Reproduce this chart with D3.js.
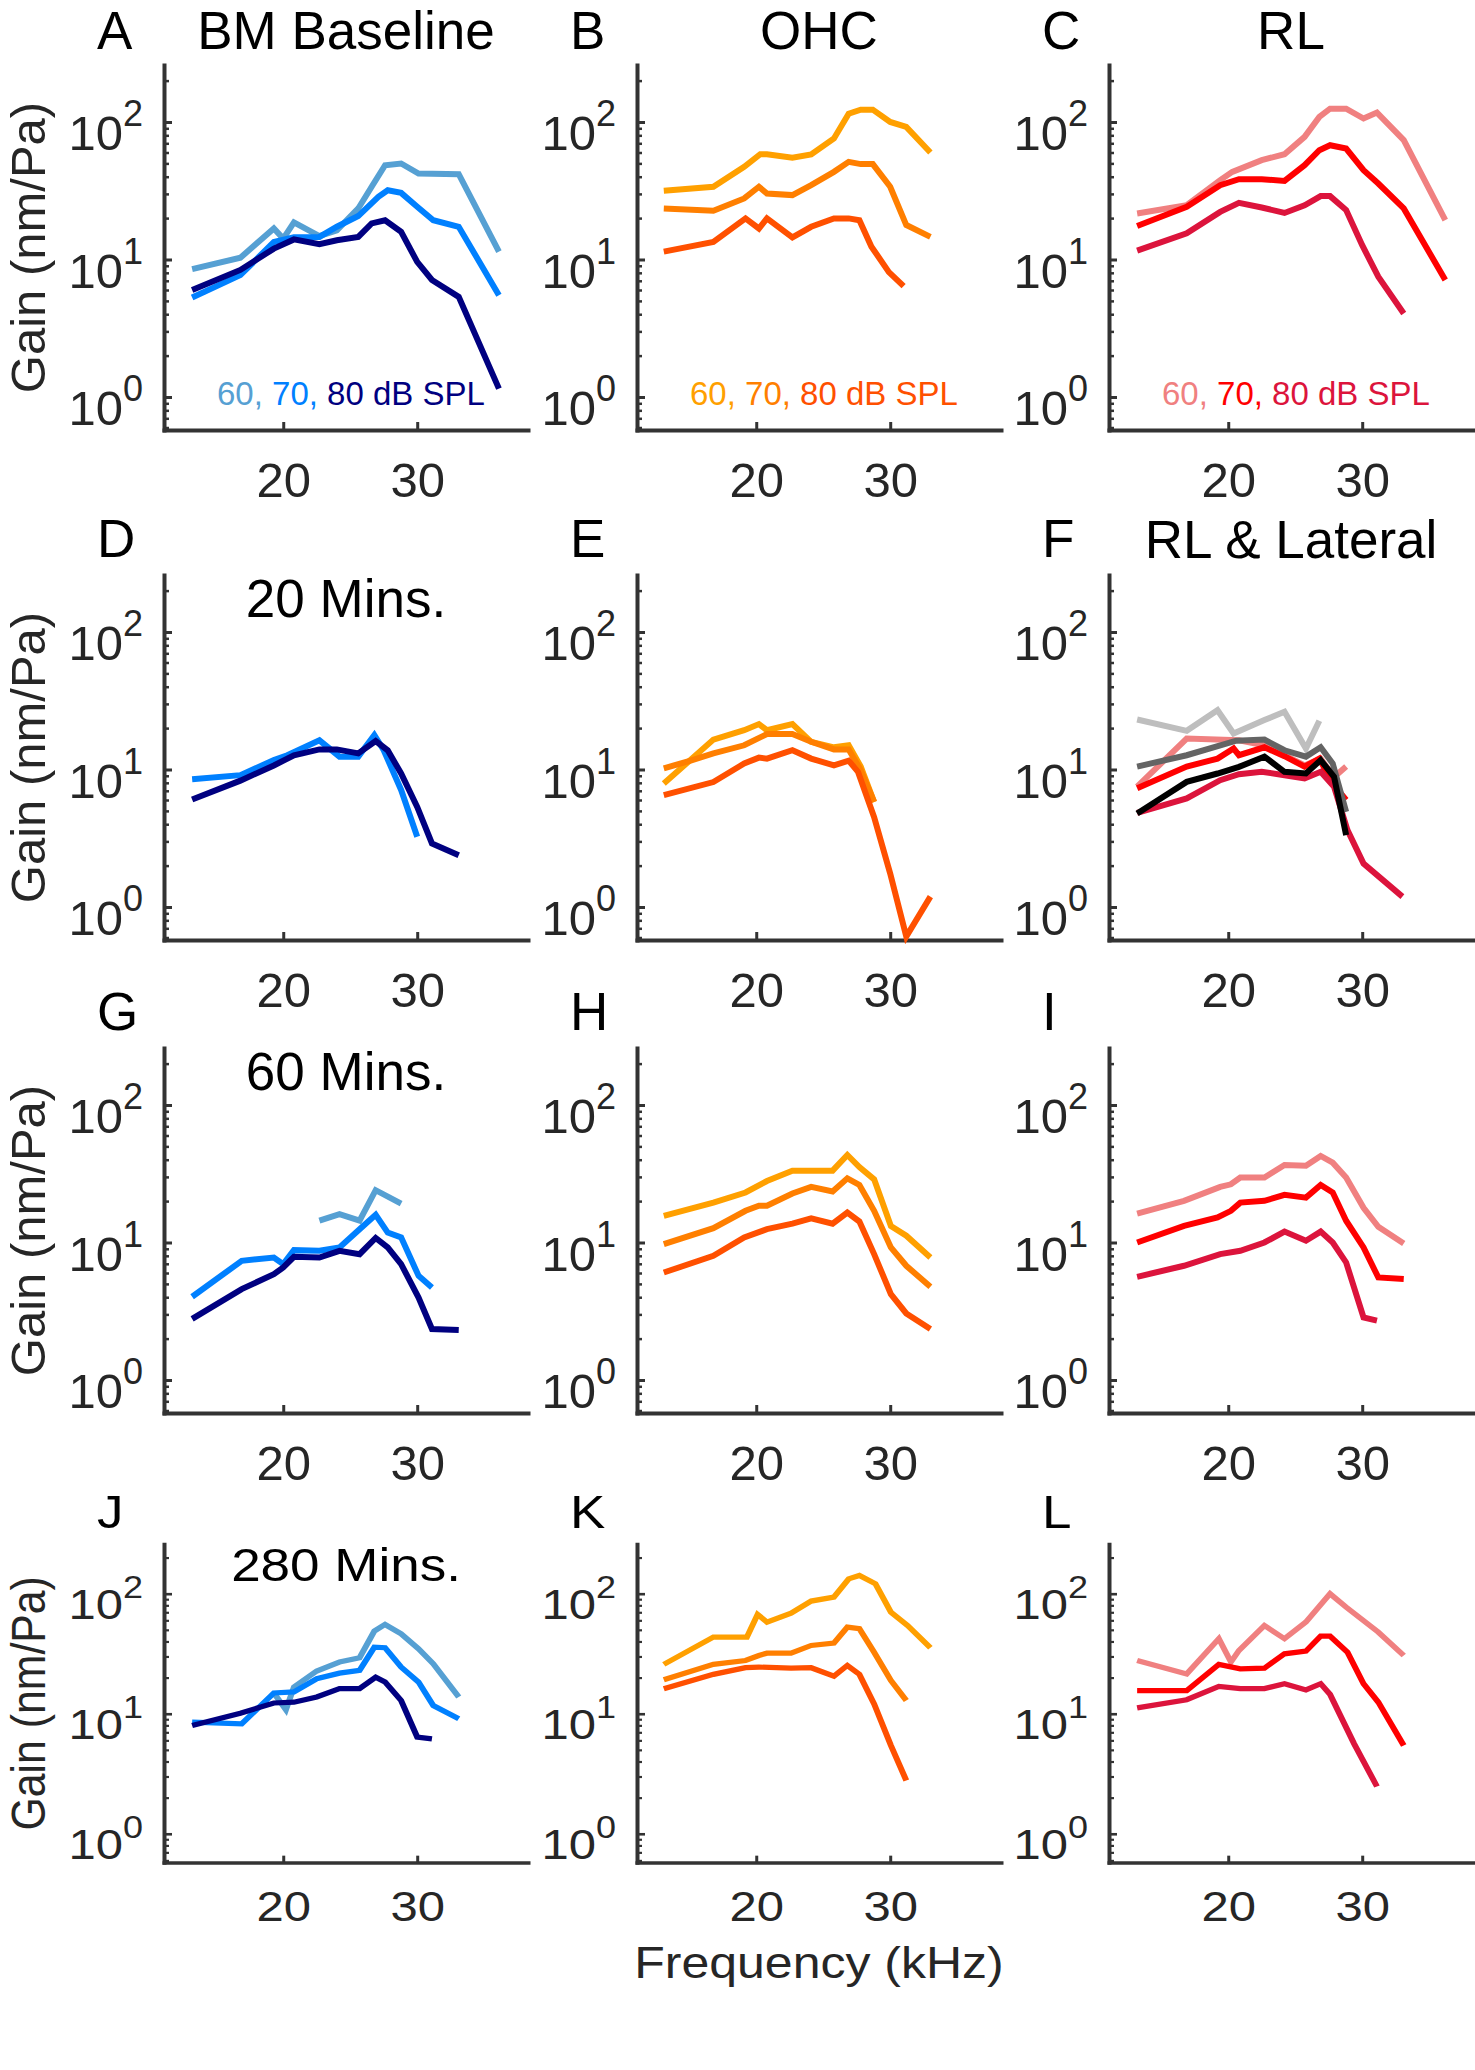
<!DOCTYPE html>
<html><head><meta charset="utf-8">
<script src="https://cdn.jsdelivr.net/npm/d3@7"></script>
<style>
body{margin:0;background:#fff}
svg{display:block}
text{font-family:"Liberation Sans",Arial,Helvetica,sans-serif}
</style>
</head><body>
<svg id="fig" width="1475" height="2070"></svg>
<script>
// ---------- data: [frequency kHz, gain nm/Pa] ----------
const levels = ["60", "70", "80"];
const xTickValues = [20, 30];
const yTickExponents = [0, 1, 2];

// Row 1 (baseline)
const bmBase60 = [[13.2,8.5],[16.8,10.3],[19.3,16.8],[20.0,14.2],[20.8,18.6],[22.7,14.8],[24.0,16.3],[25.6,23.5],[26.6,33.8],[27.6,48.5],[28.8,49.9],[30.1,42.2],[33.1,41.7],[36.1,11.4]];
const bmBase70 = [[13.2,5.3],[16.8,7.7],[19.3,13.4],[20.8,14.5],[22.7,14.6],[24.0,17.3],[25.6,20.7],[27.1,28.6],[27.8,31.9],[28.8,30.5],[30.0,24.2],[31.2,19.3],[33.1,17.3],[36.1,5.5]];
const bmBase80 = [[13.2,6.0],[16.8,8.4],[19.3,12.0],[20.8,14.0],[22.7,12.9],[24.0,13.8],[25.6,14.6],[26.6,18.3],[27.6,19.3],[28.8,15.9],[30.0,9.6],[31.1,7.1],[33.1,5.35],[36.1,1.15]];
const ohcBase60 = [[13.1,31.6],[16.8,33.8],[19.1,47.2],[20.3,58.3],[20.8,58.3],[22.7,54.9],[24.1,58.0],[25.8,75.9],[26.9,115],[27.8,123],[28.7,123],[30.0,100],[31.2,92.2],[33.0,60.0]];
const ohcBase70 = [[13.1,23.5],[16.8,22.6],[19.1,27.8],[20.2,33.8],[20.8,30.2],[22.7,29.4],[24.1,34.7],[25.8,43.4],[26.9,51.3],[27.8,49.4],[28.7,49.4],[30.0,33.8],[31.2,17.8],[33.0,14.6]];
const ohcBase80 = [[13.1,11.4],[16.8,13.4],[19.2,19.9],[20.2,16.8],[20.8,19.9],[22.7,14.5],[24.1,17.3],[25.8,19.9],[26.9,19.9],[27.7,19.3],[28.6,12.4],[29.9,8.1],[31.0,6.4]];
const rlBase60 = [[13.2,21.6],[16.9,24.8],[19.4,37.8],[20.3,43.4],[22.5,52.8],[24.2,58.3],[25.7,78.0],[26.8,109],[27.6,125],[28.8,125],[30.1,106],[31.1,117],[33.1,73.8],[36.2,19.3]];
const rlBase70 = [[13.2,17.5],[16.9,24.2],[19.4,34.7],[20.8,38.4],[22.5,38.4],[24.2,37.3],[25.7,48.5],[26.8,62.4],[27.6,67.8],[28.8,64.1],[30.1,44.6],[31.2,35.7],[33.1,23.5],[36.2,7.1]];
const rlBase80 = [[13.2,11.6],[16.9,15.5],[19.4,22.2],[20.8,25.8],[22.5,23.9],[24.2,21.8],[25.7,24.8],[26.9,28.9],[27.6,28.9],[28.8,22.9],[30.0,12.7],[31.2,7.5],[33.1,4.05]];

// Row 2 (20 min)
const bm20_70 = [[13.2,8.5],[16.8,9.1],[19.3,11.7],[20.3,12.7],[22.7,16.3],[24.2,12.4],[25.6,12.4],[26.8,17.8],[27.5,13.8],[28.8,7.1],[30.0,3.24]];
const bm20_80 = [[13.2,6.05],[16.8,8.3],[19.3,10.7],[20.8,12.7],[22.7,14.0],[24.0,14.0],[25.6,13.1],[26.9,16.1],[27.8,13.8],[28.8,9.35],[30.0,5.35],[31.1,2.9],[33.1,2.38]];
const ohc20_60 = [[13.1,7.9],[16.8,16.5],[19.1,19.3],[20.2,21.4],[20.8,19.3],[22.7,21.4],[24.1,15.9],[25.8,14.5],[26.9,15.0],[27.8,10.5],[28.8,5.8]];
const ohc20_70 = [[13.1,10.2],[15.1,11.6],[16.8,13.1],[19.1,15.0],[20.8,18.1],[22.7,18.1],[24.1,15.9],[25.8,14.0],[26.9,14.0],[27.8,9.9],[28.8,5.8]];
const ohc20_80 = [[13.1,6.5],[16.8,8.1],[19.1,11.05],[20.2,12.2],[20.8,12.0],[22.7,13.8],[24.1,12.0],[25.8,10.7],[26.9,11.6],[27.6,9.6],[28.8,4.5],[30.0,1.75],[31.2,0.61],[33.0,1.19]];
const rl20_60 = [[13.2,7.5],[16.9,16.8],[20.8,16.3],[22.7,15.0],[24.2,12.7],[25.7,10.7],[26.9,12.0],[27.9,8.8],[28.8,10.5]];
const rl20_70 = [[13.2,7.3],[16.9,10.5],[19.2,12.0],[20.4,14.2],[20.8,12.7],[22.7,14.5],[24.2,12.5],[25.7,10.5],[26.8,12.0],[27.8,7.9],[28.8,6.0]];
const rl20_80 = [[13.2,4.84],[16.9,6.16],[19.4,8.36],[20.8,9.25],[22.5,9.62],[24.2,9.09],[25.7,8.6],[26.9,9.62],[27.9,7.48],[28.9,3.62],[30.1,2.07],[33.0,1.19]];
const lat20_60 = [[13.2,23.1],[16.9,19.1],[19.2,27.0],[20.4,18.3],[22.7,22.9],[24.2,26.3],[25.8,14.2],[26.8,22.6]];
const lat20_70 = [[13.2,10.5],[16.9,12.7],[20.6,16.2],[22.7,16.5],[24.2,13.8],[25.8,12.4],[26.9,14.5],[27.8,11.05],[28.8,4.92]];
const lat20_80 = [[13.2,4.79],[16.9,8.13],[19.2,9.35],[20.8,10.45],[22.7,12.4],[24.2,9.62],[25.8,9.35],[26.9,11.7],[27.9,8.84],[28.8,3.33]];

// Row 3 (60 min)
const bm60_60 = [[22.7,14.4],[24.2,16.1],[25.7,14.4],[26.9,24.0],[28.8,19.2]];
const bm60_70 = [[13.2,4.03],[16.9,7.36],[19.3,7.78],[20.0,6.96],[20.8,8.8],[22.7,8.7],[24.2,9.2],[25.7,12.5],[26.9,15.9],[27.8,11.8],[28.8,10.9],[30.1,5.73],[31.1,4.71]];
const bm60_80 = [[13.2,2.78],[16.9,4.58],[19.3,5.89],[20.0,6.58],[20.8,7.87],[22.7,7.78],[24.2,8.7],[25.7,8.22],[26.9,10.8],[27.8,9.2],[28.8,6.96],[30.1,3.98],[31.1,2.35],[33.1,2.31]];
const ohc60_60 = [[13.1,15.6],[16.8,19.5],[19.2,23.1],[20.8,28.0],[22.7,33.2],[25.7,33.3],[26.8,43.3],[27.7,35.4],[28.8,28.8],[30.05,13.2],[31.2,11.2],[33.0,7.78]];
const ohc60_70 = [[13.1,9.72],[16.8,12.7],[19.2,17.0],[20.2,18.5],[20.8,18.5],[22.7,22.7],[24.1,25.4],[25.7,23.5],[26.8,29.3],[27.7,26.2],[28.8,17.0],[30.05,9.2],[31.2,6.77],[33.0,4.76]];
const ohc60_80 = [[13.1,6.05],[16.8,8.0],[19.1,10.9],[20.8,12.5],[22.7,13.7],[24.1,15.0],[25.7,13.7],[26.8,16.5],[27.7,14.2],[28.8,8.23],[30.05,4.21],[31.2,3.05],[33.0,2.35]];
const rl60_60 = [[13.2,16.2],[16.7,20.1],[19.4,25.4],[20.2,26.5],[20.9,29.7],[22.7,29.7],[24.2,36.6],[25.8,36.1],[26.9,42.6],[27.8,38.1],[28.8,29.7],[30.1,17.9],[31.2,13.0],[33.1,9.83]];
const rl60_70 = [[13.2,10.0],[16.7,13.2],[19.2,15.2],[20.2,17.0],[20.9,19.5],[22.7,20.1],[24.2,22.2],[25.8,21.2],[26.9,26.2],[27.8,23.1],[28.8,14.4],[30.1,9.2],[31.2,5.57],[33.1,5.42]];
const rl60_80 = [[13.2,5.63],[16.7,6.77],[19.4,8.23],[20.9,8.7],[22.7,10.0],[24.2,12.0],[25.8,10.3],[26.9,12.0],[27.8,10.0],[28.8,7.16],[30.1,2.85],[31.1,2.7]];

// Row 4 (280 min)
const bm280_60 = [[19.3,14.9],[20.2,10.8],[20.8,16.7],[22.5,22.7],[24.2,27.0],[25.7,29.3],[26.8,48.9],[27.6,55.5],[28.8,46.4],[30.1,34.8],[31.2,26.1],[33.1,13.8]];
const bm280_70 = [[13.2,8.52],[16.9,8.25],[19.3,14.9],[20.8,15.2],[22.5,19.6],[24.2,21.8],[25.7,23.0],[26.8,35.9],[27.6,35.5],[28.8,24.5],[30.1,18.4],[31.2,11.7],[33.1,9.08]];
const bm280_80 = [[13.2,8.0],[16.8,10.1],[19.3,12.3],[20.8,12.5],[22.5,13.8],[24.2,16.2],[25.7,16.2],[26.9,20.2],[27.6,18.4],[28.8,12.9],[30.0,6.4],[31.1,6.19]];
const ohc280_60 = [[13.1,25.8],[16.8,43.5],[19.3,43.5],[20.1,67.3],[20.8,58.1],[22.6,69.0],[24.1,86.9],[25.8,93.8],[26.9,133],[27.7,142],[28.9,121],[30.05,70.3],[31.3,54.4],[33.0,35.5]];
const ohc280_70 = [[13.1,19.2],[16.8,25.8],[19.2,27.8],[20.2,30.6],[20.8,32.0],[22.6,32.0],[24.1,37.1],[25.8,38.8],[26.8,52.7],[27.7,51.1],[28.8,32.6],[30.05,19.0],[31.2,12.9]];
const ohc280_80 = [[13.1,16.2],[16.8,21.3],[19.2,24.2],[20.2,24.5],[22.6,24.0],[24.1,24.2],[25.8,20.6],[26.8,25.3],[27.7,21.3],[28.8,12.1],[30.05,5.45],[31.2,2.78]];
const rl280_60 = [[13.2,27.8],[16.9,21.5],[19.3,42.2],[20.2,27.0],[20.8,33.7],[22.7,54.4],[24.2,42.2],[25.8,58.1],[27.6,100],[28.8,77.4],[31.2,47.9],[33.1,30.6]];
const rl280_70 = [[13.2,15.6],[16.9,15.6],[19.3,25.8],[20.9,23.7],[22.7,24.0],[24.2,31.6],[25.8,33.3],[26.9,44.4],[27.6,44.4],[28.9,32.6],[30.1,17.8],[31.2,12.5],[33.1,5.45]];
const rl280_80 = [[13.2,11.2],[16.9,13.1],[19.3,16.9],[20.9,16.2],[22.7,16.2],[24.2,17.8],[25.8,15.8],[26.9,17.8],[27.6,14.5],[29.4,5.62],[31.1,2.48]];

// colours
const bmColors = ["#56A0D3", "#0080FF", "#000080"];
const ohcColors = ["#FFA000", "#FF7F00", "#FF5000"];
const rlColors = ["#F08080", "#FF0000", "#DC143C"];
const latColors = ["#BEBEBE", "#646464", "#000000"];

// panels
const panels = [
  {row:0,col:0,letter:"A",title:"BM Baseline",legend:bmColors,series:[[bmBase60,bmColors[0]],[bmBase70,bmColors[1]],[bmBase80,bmColors[2]]]},
  {row:0,col:1,letter:"B",title:"OHC",legend:ohcColors,series:[[ohcBase60,ohcColors[0]],[ohcBase70,ohcColors[1]],[ohcBase80,ohcColors[2]]]},
  {row:0,col:2,letter:"C",title:"RL",legend:rlColors,series:[[rlBase60,rlColors[0]],[rlBase70,rlColors[1]],[rlBase80,rlColors[2]]]},
  {row:1,col:0,letter:"D",inner:"20 Mins.",series:[[bm20_70,bmColors[1]],[bm20_80,bmColors[2]]]},
  {row:1,col:1,letter:"E",series:[[ohc20_60,ohcColors[0]],[ohc20_70,ohcColors[1]],[ohc20_80,ohcColors[2]]]},
  {row:1,col:2,letter:"F",title:"RL & Lateral",series:[[rl20_60,rlColors[0]],[rl20_70,rlColors[1]],[rl20_80,rlColors[2]],[lat20_60,latColors[0]],[lat20_70,latColors[1]],[lat20_80,latColors[2]]]},
  {row:2,col:0,letter:"G",inner:"60 Mins.",series:[[bm60_60,bmColors[0]],[bm60_70,bmColors[1]],[bm60_80,bmColors[2]]]},
  {row:2,col:1,letter:"H",series:[[ohc60_60,ohcColors[0]],[ohc60_70,ohcColors[1]],[ohc60_80,ohcColors[2]]]},
  {row:2,col:2,letter:"I",series:[[rl60_60,rlColors[0]],[rl60_70,rlColors[1]],[rl60_80,rlColors[2]]]},
  {row:3,col:0,letter:"J",inner:"280 Mins.",series:[[bm280_60,bmColors[0]],[bm280_70,bmColors[1]],[bm280_80,bmColors[2]]]},
  {row:3,col:1,letter:"K",series:[[ohc280_60,ohcColors[0]],[ohc280_70,ohcColors[1]],[ohc280_80,ohcColors[2]]]},
  {row:3,col:2,letter:"L",series:[[rl280_60,rlColors[0]],[rl280_70,rlColors[1]],[rl280_80,rlColors[2]]]}
];

// ---------- layout ----------
const svg = d3.select("#fig");
const colX = [164, 637, 1109];
const rowTransforms = ["translate(0,65)", "translate(0,575)", "translate(0,1048)", "translate(0,1544) scale(1,0.873)"];
const W = 364, H = 365;
const axisColor = "#333333";
const textColor = "#262626";

const x = d3.scaleLinear().domain([11.1, 38.27]).range([0, W]);
const y = d3.scaleLog().domain([Math.pow(10, -0.24), Math.pow(10, 2.4145)]).range([H, 0]);
const line = d3.line().x(d => x(d[0])).y(d => y(d[1]));

const minorTicks = [];
[-1, 0, 1, 2].forEach(e => { for (let m = 2; m <= 9; m++) { const v = m * Math.pow(10, e); if (v >= y.domain()[0] && v <= y.domain()[1]) minorTicks.push(v); } });

const rows = rowTransforms.map(t => svg.append("g").attr("transform", t));

// Y labels (first column) and x label
rows.forEach(rg => {
  rg.append("text")
    .attr("transform", `translate(44.5,${H/2}) rotate(-90)`)
    .attr("text-anchor", "middle").attr("font-size", 49).attr("fill", textColor)
    .text("Gain (nm/Pa)");
});
rows[3].append("text").attr("x", colX[1] + W/2).attr("y", 497)
  .attr("text-anchor", "middle").attr("font-size", 50).attr("fill", textColor)
  .text("Frequency (kHz)");

panels.forEach(p => {
  const rg = rows[p.row];
  const g = rg.append("g").attr("transform", `translate(${colX[p.col]},0)`);
  const headY = p.row === 0 ? -16 : -18;

  // panel letter
  rg.append("text").attr("x", colX[p.col] - 67).attr("y", headY)
    .attr("font-size", 53).attr("fill", "#000").text(p.letter);
  if (p.title) {
    rg.append("text").attr("x", colX[p.col] + W/2).attr("y", p.row === 0 ? -16 : -17)
      .attr("text-anchor", "middle").attr("font-size", 53).attr("fill", "#000").text(p.title);
  }
  if (p.inner) {
    g.append("text").attr("x", W/2).attr("y", 42)
      .attr("text-anchor", "middle").attr("font-size", 53).attr("fill", "#000").text(p.inner);
  }

  // minor y ticks
  const minorAx = g.append("g").call(d3.axisLeft(y).tickValues(minorTicks).tickSize(-5).tickSizeOuter(0).tickFormat(""));
  minorAx.select(".domain").remove();
  minorAx.selectAll(".tick line").attr("stroke", axisColor).attr("stroke-width", 2.5);

  // major y axis
  const yAx = g.append("g").call(d3.axisLeft(y).tickValues(yTickExponents.map(e => Math.pow(10, e)))
    .tickSize(-8).tickSizeOuter(0).tickPadding(21).tickFormat(() => "10"));
  yAx.select(".domain").attr("stroke", axisColor).attr("stroke-width", 4).attr("stroke-linecap", "square");
  yAx.selectAll(".tick line").attr("stroke", axisColor).attr("stroke-width", 3);
  yAx.selectAll(".tick text").attr("dy", 28).attr("font-size", 49).attr("fill", textColor)
    .each(function(d) {
      d3.select(this).append("tspan").attr("dy", -24).attr("font-size", 36).text(Math.round(Math.log10(d)));
    });

  // x axis
  const xAx = g.append("g").attr("transform", `translate(0,${H})`)
    .call(d3.axisBottom(x).tickValues(xTickValues).tickSize(-8).tickSizeOuter(0).tickPadding(0));
  xAx.select(".domain").attr("stroke", axisColor).attr("stroke-width", 4).attr("stroke-linecap", "square");
  xAx.selectAll(".tick line").attr("stroke", axisColor).attr("stroke-width", 3);
  xAx.selectAll(".tick text").attr("y", 67).attr("dy", 0).attr("font-size", 49).attr("fill", textColor);
  g.selectAll("g").attr("font-family", null).attr("font-size", null);

  // data lines
  g.selectAll("path.series").data(p.series).enter().append("path")
    .attr("class", "series")
    .attr("d", s => line(s[0]))
    .attr("fill", "none").attr("stroke", s => s[1])
    .attr("stroke-width", 6).attr("stroke-linejoin", "miter").attr("stroke-miterlimit", 3);

  // legend
  if (p.legend) {
    const t = g.append("text").attr("x", 53).attr("y", 340).attr("font-size", 33);
    levels.forEach((lv, i) => {
      t.append("tspan").attr("fill", p.legend[i]).text(i < 2 ? lv + ", " : lv + " dB SPL");
    });
  }
});
</script>
</body></html>
